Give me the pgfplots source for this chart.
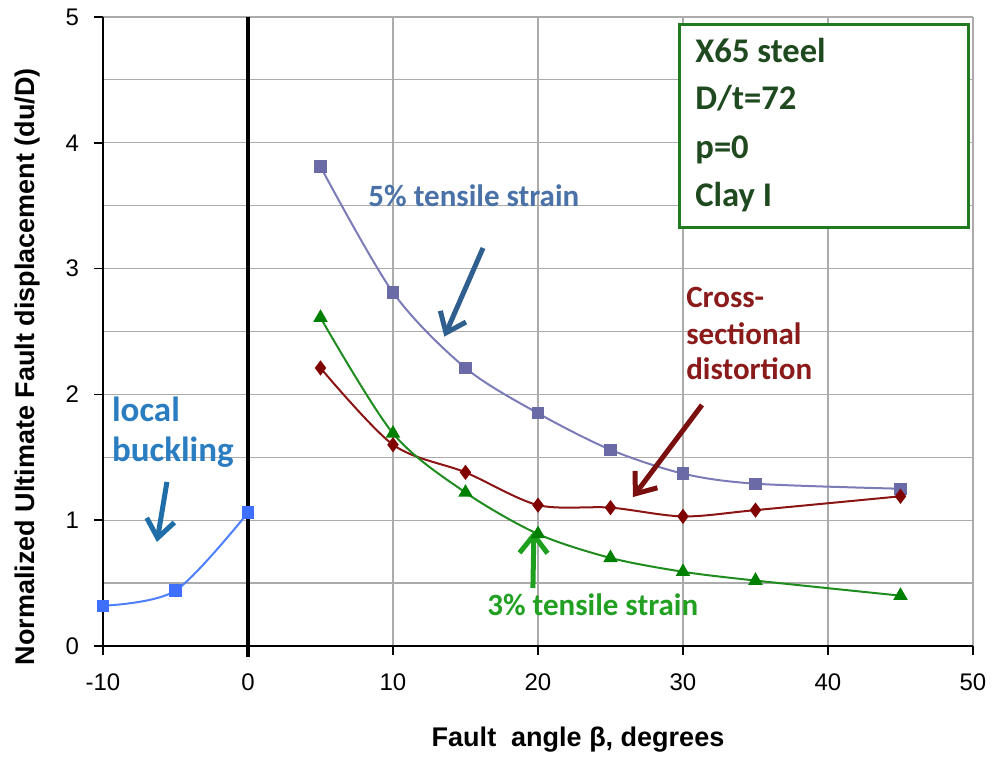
\documentclass[border=0pt]{standalone}
\usepackage{fontspec}
\setmainfont{Liberation Sans}
\newfontfamily\calfont{Carlito}
\usepackage{pgfplots}
\pgfplotsset{compat=1.18}
\usetikzlibrary{arrows.meta}

\definecolor{gridc}{HTML}{ABABAB}
\definecolor{cfive}{HTML}{7B7BB8}
\definecolor{cfivem}{HTML}{6A6AA6}
\definecolor{cred}{HTML}{8B1414}
\definecolor{credm}{HTML}{800000}
\definecolor{cgreen}{HTML}{1E8C1E}
\definecolor{cgreenm}{HTML}{008000}
\definecolor{cblue}{HTML}{4D7FFF}
\definecolor{cbluem}{HTML}{3F6FFF}
\definecolor{tfive}{HTML}{4A72A8}
\definecolor{afive}{HTML}{2F5F8F}
\definecolor{tlocal}{HTML}{2A7DC0}
\definecolor{alocal}{HTML}{1F6EA8}
\definecolor{tred}{HTML}{8B1A1A}
\definecolor{ared}{HTML}{7A0F0F}
\definecolor{tgreen}{HTML}{22A022}
\definecolor{agreen}{HTML}{1EA01E}
\definecolor{boxc}{HTML}{207A20}
\definecolor{boxt}{HTML}{1F4A1F}

\tikzset{annarrow/.style={line width=2.5pt, -{Straight Barb[length=9pt,width=14pt]}}}

\begin{document}
\begin{tikzpicture}
\begin{axis}[
  scale only axis, width=435pt, height=314.5pt,
  xmin=-10, xmax=50, ymin=0, ymax=5,
  xtick={-10,0,10,20,30,40,50}, ytick={0,1,2,3,4,5},
  minor ytick={0.5,1.5,2.5,3.5,4.5},
  grid=both,
  major grid style={color=gridc, line width=0.6pt},
  minor grid style={color=gridc, line width=0.6pt},
  axis lines=left, axis line style={-, line width=0.8pt, black},
  tick align=outside, major tick length=4.5pt, minor tick length=0pt,
  tick style={black, line width=0.8pt},
  ticklabel style={font=\fontsize{12}{14}\selectfont},
  xticklabel style={yshift=-6pt},
  yticklabel style={xshift=-4pt},
  /pgf/number format/assume math mode=true,
  xlabel={Fault~ angle β, degrees},
  ylabel={Normalized Ultimate Fault displacement (du/D)},
  xlabel style={at={(axis description cs:0.546,-0.149)}, anchor=center, font=\bfseries\fontsize{13.5}{16}\selectfont},
  ylabel style={at={(axis description cs:-0.0862,0.444)}, anchor=center, font=\bfseries\fontsize{13.5}{16}\selectfont},
  clip=false,
]
\draw[black, line width=2pt] (axis cs:0,5) -- (axis cs:0,-0.09);

% 5% tensile strain
\addplot[cfive, line width=1pt, smooth, tension=0.5, mark=square*, mark size=2.6pt,
  mark options={fill=cfivem, draw=cfivem}] coordinates {
  (5,3.81) (10,2.81) (15,2.21) (20,1.85) (25,1.56) (30,1.37) (35,1.29) (45,1.25)};
% Cross-sectional distortion
\addplot[cred, line width=1pt, smooth, tension=0.5, mark=diamond*, mark size=3pt,
  mark options={fill=credm, draw=credm}] coordinates {
  (5,2.21) (10,1.60) (15,1.38) (20,1.12) (25,1.10) (30,1.03) (35,1.08) (45,1.19)};
% 3% tensile strain
\addplot[cgreen, line width=1pt, smooth, tension=0.5, mark=triangle*, mark size=3.2pt,
  mark options={fill=cgreenm, draw=cgreenm}] coordinates {
  (5,2.61) (10,1.69) (15,1.22) (20,0.89) (25,0.70) (30,0.59) (35,0.52) (45,0.40)};
% local buckling
\addplot[cblue, line width=1pt, smooth, tension=0.5, mark=square*, mark size=2.6pt,
  mark options={fill=cbluem, draw=cbluem}] coordinates {
  (-10,0.32) (-5,0.44) (0,1.06)};

% annotations
\node[anchor=base west, inner sep=0pt, text=tfive, font=\calfont\bfseries\fontsize{15.5}{18}\selectfont] at (axis cs:8.28,3.49) {5\% tensile strain};
\draw[afive, annarrow] (axis cs:16.21,3.164) -- (axis cs:13.54,2.459);

\node[anchor=base west, inner sep=0pt, text=tred, font=\calfont\bfseries\fontsize{15.5}{18}\selectfont] at (axis cs:30.2,2.687) {Cross-};
\node[anchor=base west, inner sep=0pt, text=tred, font=\calfont\bfseries\fontsize{15.5}{18}\selectfont] at (axis cs:30.2,2.40) {sectional};
\node[anchor=base west, inner sep=0pt, text=tred, font=\calfont\bfseries\fontsize{15.5}{18}\selectfont] at (axis cs:30.2,2.12) {distortion};
\draw[ared, annarrow] (axis cs:31.31,1.916) -- (axis cs:26.55,1.184);

\node[anchor=base west, inner sep=0pt, text=tgreen, font=\calfont\bfseries\fontsize{15.5}{18}\selectfont] at (axis cs:16.48,0.246) {3\% tensile strain};
\draw[agreen, annarrow] (axis cs:19.65,0.461) -- (axis cs:19.72,0.914);

\node[anchor=base west, inner sep=0pt, text=tlocal, font=\calfont\bfseries\fontsize{17.5}{20}\selectfont] at (axis cs:-9.40,1.783) {local};
\node[anchor=base west, inner sep=0pt, text=tlocal, font=\calfont\bfseries\fontsize{17.5}{20}\selectfont] at (axis cs:-9.40,1.465) {buckling};
\draw[alocal, annarrow] (axis cs:-5.59,1.304) -- (axis cs:-6.28,0.827);

% info box
\draw[boxc, line width=1.5pt, fill=white] (axis cs:29.79,3.33) rectangle (axis cs:49.66,4.94);
\node[anchor=base west, inner sep=0pt, text=boxt, font=\calfont\bfseries\fontsize{17.3}{20}\selectfont] at (axis cs:30.83,4.642) {X65 steel};
\node[anchor=base west, inner sep=0pt, text=boxt, font=\calfont\bfseries\fontsize{17.3}{20}\selectfont] at (axis cs:30.83,4.261) {D/t=72};
\node[anchor=base west, inner sep=0pt, text=boxt, font=\calfont\bfseries\fontsize{17.3}{20}\selectfont] at (axis cs:30.83,3.879) {p=0};
\node[anchor=base west, inner sep=0pt, text=boxt, font=\calfont\bfseries\fontsize{17.3}{20}\selectfont] at (axis cs:30.83,3.490) {Clay I};
\end{axis}
\pgfresetboundingbox
\path[use as bounding box] (current axis.south west) ++(-51.5pt,-56pt) rectangle ++(496pt,379pt);
\end{tikzpicture}
\end{document}
